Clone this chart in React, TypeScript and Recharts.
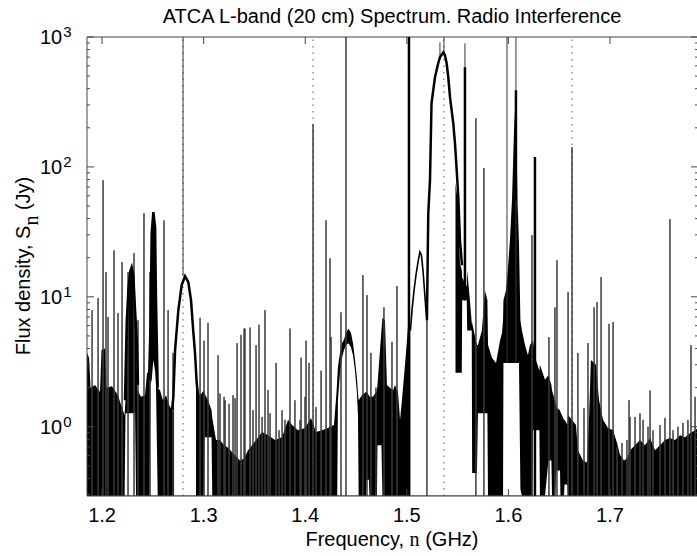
import { Area, ComposedChart, Line, ReferenceLine, XAxis, YAxis } from "recharts";

const FLOOR = 0.293;
const TOP = 1000;
const PL = 87;
const PR = 698;
const PT = 37;
const PB = 496;
const AXIS = "#444";
const SANS = "'Liberation Sans', Arial, Helvetica, sans-serif";
const SERIF = "'Liberation Serif', 'Times New Roman', serif";

// receiver noise band (solid black), low / high edge in Jy, null = gap
const bandFreq = [
  1.1852, 1.1872, 1.1887, 1.1931, 1.198, 1.1995, 1.203, 1.2044, 1.2098, 1.2157, 1.2187, 1.2222,
  1.2231, 1.2243, 1.2259, 1.2276, 1.2292, 1.2308, 1.2325, 1.2335, 1.2349, 1.2384, 1.2423, 1.2443,
  1.2468, 1.2476, 1.2489, 1.2505, 1.2522, 1.2531, 1.2548, 1.2571, 1.26, 1.263, 1.2659, 1.2699,
  1.2709, 1.2815, 1.2925, 1.2945, 1.2965, 1.3002, 1.3009, 1.3043, 1.3078, 1.3085, 1.3122, 1.3161,
  1.3201, 1.324, 1.3279, 1.3319, 1.3358, 1.3398, 1.3437, 1.3476, 1.3516, 1.3575, 1.3634, 1.3703,
  1.3772, 1.3831, 1.387, 1.3929, 1.3998, 1.4057, 1.4106, 1.4165, 1.4224, 1.4283, 1.4308, 1.4315,
  1.4322, 1.4342, 1.4362, 1.4382, 1.4401, 1.4424, 1.445, 1.447, 1.449, 1.4509, 1.4519, 1.4526,
  1.4558, 1.4598, 1.4603, 1.4627, 1.4632, 1.4667, 1.4706, 1.4711, 1.475, 1.476, 1.4785, 1.4804,
  1.4834, 1.4864, 1.4883, 1.4913, 1.4933, 1.4952, 1.4982, 1.5001, 1.5021, 1.5034, 1.525, 1.5479,
  1.5504, 1.5523, 1.5541, 1.5545, 1.559, 1.5594, 1.5621, 1.5639, 1.5643, 1.569, 1.57, 1.5739,
  1.5769, 1.5793, 1.5799, 1.5838, 1.5878, 1.5917, 1.5937, 1.5947, 1.5951, 1.5976, 1.5996, 1.6015,
  1.6035, 1.6055, 1.6074, 1.6089, 1.6104, 1.6118, 1.6133, 1.6163, 1.6192, 1.6212, 1.6237, 1.6242,
  1.6271, 1.6305, 1.631, 1.636, 1.6394, 1.6423, 1.6429, 1.6458, 1.6473, 1.6508, 1.6512, 1.6547,
  1.6552, 1.6581, 1.6587, 1.6626, 1.6665, 1.6684, 1.6734, 1.6773, 1.6793, 1.6812, 1.6862, 1.6892,
  1.6931, 1.698, 1.703, 1.7069, 1.7098, 1.7138, 1.7167, 1.7197, 1.7246, 1.7295, 1.7344, 1.7394,
  1.7443, 1.7492, 1.7541, 1.759, 1.764, 1.7689, 1.7738, 1.7787, 1.7837, 1.7866,
];
const bandLow = [
  FLOOR, FLOOR, FLOOR, FLOOR, FLOOR, FLOOR, FLOOR, FLOOR, FLOOR, FLOOR, FLOOR, FLOOR,
  1.27, 1.27, 1.27, 1.27, 1.27, 1.27, 1.27, FLOOR, FLOOR, FLOOR, FLOOR, FLOOR,
  FLOOR, 2.1, 2.3, 3.26, 2.7, 2.1, FLOOR, FLOOR, FLOOR, FLOOR, FLOOR, FLOOR,
  FLOOR, null, FLOOR, FLOOR, FLOOR, FLOOR, 0.83, 0.83, 0.83, FLOOR, FLOOR, FLOOR,
  FLOOR, FLOOR, FLOOR, FLOOR, FLOOR, FLOOR, FLOOR, FLOOR, FLOOR, FLOOR, FLOOR, FLOOR,
  FLOOR, FLOOR, FLOOR, FLOOR, FLOOR, FLOOR, FLOOR, FLOOR, FLOOR, FLOOR, FLOOR, FLOOR,
  1.6, 2.6, 3.4, 3.9, 4.25, 4.4, 4.1, 3.55, 2.7, 1.8, 1.23, FLOOR,
  FLOOR, FLOOR, 0.39, 0.39, FLOOR, FLOOR, FLOOR, 0.72, 0.72, FLOOR, FLOOR, FLOOR,
  FLOOR, FLOOR, FLOOR, FLOOR, FLOOR, FLOOR, FLOOR, FLOOR, FLOOR, FLOOR, null, 2.6,
  2.6, 2.6, 2.6, 9.4, 9.4, 5.5, 5.5, 5.5, 0.44, 0.44, 1.27, 1.27,
  1.27, 1.27, FLOOR, FLOOR, FLOOR, FLOOR, FLOOR, FLOOR, 3.1, 3.1, 3.1, 3.1,
  3.1, 3.1, 3.1, 3.1, 3.1, 0.33, FLOOR, FLOOR, FLOOR, FLOOR, FLOOR, 0.94,
  0.94, 0.94, FLOOR, FLOOR, 0.55, 0.55, FLOOR, FLOOR, 0.46, 0.46, FLOOR, FLOOR,
  0.36, 0.36, FLOOR, FLOOR, FLOOR, FLOOR, FLOOR, FLOOR, FLOOR, FLOOR, FLOOR, FLOOR,
  FLOOR, FLOOR, FLOOR, FLOOR, FLOOR, FLOOR, FLOOR, FLOOR, FLOOR, FLOOR, FLOOR, FLOOR,
  FLOOR, FLOOR, FLOOR, FLOOR, FLOOR, FLOOR, FLOOR, FLOOR, FLOOR, FLOOR,
];
const bandHigh = [
  3.7, 3.4, 2.0, 2.1, 1.85, 3.9, 4.0, 2.0, 2.05, 1.75, 1.47, 1.23,
  1.6, 6.3, 11.2, 15.5, 16.9, 14.7, 7.9, 4.6, 1.9, 1.7, 1.75, 2.6,
  2.6, 5.5, 30.9, 44.8, 34.4, 9.4, 2.0, 1.9, 1.6, 1.75, 1.47, 1.3,
  1.6, null, 2.1, 1.85, 1.75, 1.9, 1.8, 1.6, 1.34, 1.17, 0.79, 0.79,
  0.72, 0.69, 0.64, 0.59, 0.55, 0.57, 0.66, 0.72, 0.79, 0.91, 0.86, 0.79,
  0.83, 1.13, 1.03, 0.94, 0.98, 1.17, 0.91, 0.94, 0.98, 1.03, 1.85, 2.3,
  2.9, 3.7, 4.4, 4.7, 5.3, 5.7, 5.3, 4.4, 3.26, 2.37, 1.8, 1.6,
  1.75, 1.85, 1.85, 1.75, 1.7, 1.7, 1.9, 2.1, 5.5, 6.9, 6.6, 2.1,
  2.0, 1.9, 2.1, 1.85, 1.13, 1.6, 3.0, 4.6, 7.5, 5.5, null, 75,
  52.6, 18.2, 16.0, 14.0, 12.0, 16.0, 9.4, 6.3, 6.3, 4.25, 4.25, 5.5,
  11.2, 9.4, 4.25, 3.4, 3.1, 4.6, 5.3, 6.6, 9.4, 11.2, 16.9, 27.2,
  55.3, 191, 389, 55.3, 25.9, 6.6, 5.5, 4.25, 3.55, 4.25, 4.6, 4.6,
  3.26, 2.7, 3.0, 2.3, 2.5, 2.1, 1.9, 1.6, 1.4, 1.34, 1.3, 1.13,
  1.13, 1.03, 1.23, 1.13, 1.03, 0.66, 0.55, 0.53, 1.13, 3.26, 3.0, 1.6,
  1.13, 0.98, 0.94, 0.75, 0.61, 0.55, 0.57, 0.66, 0.72, 0.79, 0.72, 0.82,
  0.66, 0.72, 0.79, 0.82, 0.79, 0.86, 0.83, 0.89, 0.94, 0.98,
];

// narrow interference spikes rising from the bottom of the plot
const spikeFreq = [
  1.1902, 1.1961, 1.201, 1.2039, 1.2059, 1.2118, 1.2157, 1.2197, 1.2256, 1.2315, 1.2354, 1.2413,
  1.2472, 1.261, 1.265, 1.2699, 1.2965, 1.3004, 1.3043, 1.3142, 1.3161, 1.3201, 1.3211, 1.325,
  1.3289, 1.3309, 1.3329, 1.3368, 1.3398, 1.3407, 1.3457, 1.3486, 1.3516, 1.3545, 1.3575, 1.3604,
  1.3634, 1.3654, 1.3713, 1.3742, 1.3772, 1.3801, 1.385, 1.3899, 1.3949, 1.3959, 1.3998, 1.4008,
  1.4037, 1.4077, 1.4106, 1.4156, 1.4205, 1.4244, 1.4254, 1.4352, 1.4401, 1.4568, 1.4608, 1.4647,
  1.4696, 1.4775, 1.4854, 1.4903, 1.5198, 1.568, 1.5759, 1.6232, 1.6399, 1.6458, 1.6478, 1.6587,
  1.6626, 1.6684, 1.6744, 1.6783, 1.6843, 1.6872, 1.6912, 1.699, 1.703, 1.7069, 1.7118, 1.7167,
  1.7187, 1.7197, 1.7246, 1.7295, 1.7325, 1.7374, 1.7394, 1.7423, 1.7492, 1.7541, 1.759, 1.7620,
  1.7669, 1.7718, 1.7767, 1.7797, 1.7837,
];
const spikeTop = [
  7.9, 9.8, 79, 15.5, 7.0, 22.8, 7.5, 18.5, 15.5, 21.7, 6.6, 44,
  15.5, 38.8, 7.9, 3.7, 6.9, 4.6, 6.3, 3.55, 1.8, 1.7, 1.6, 1.5,
  1.75, 1.66, 4.4, 5.1, 5.7, 5.7, 5.8, 1.34, 4.25, 6.1, 1.19, 7.9,
  1.92, 1.27, 3.1, 0.94, 1.34, 1.13, 5.7, 1.6, 1.13, 3.4, 1.7, 4.6,
  3.1, 213, 1.42, 2.7, 38.8, 19.8, 4.9, 7.6, TOP, 14.7, 10.3, 3.7,
  2.0, 8.3, 4.5, 12.1, 6.6, 237, 98, 29.8, 4.9, 8.3, 19.1, 10.9,
  142, 3.7, 1.39, 4.4, 8.3, 9.1, 14.2, 6.2, 6.4, 0.7, 0.75, 0.79,
  1.6, 1.19, 1.19, 1.27, 1.13, 1.0, 1.9, 0.94, 1.03, 1.17, 39.6, 0.94,
  1.0, 1.07, 1.13, 4.25, 1.7,
];

// spikes that start on top of a broad feature: base and top in Jy
const raisedFreq = [1.2797, 1.5326, 1.5365, 1.5572, 1.5986, 1.6074];
const raisedBase = [14.4, 698, 750, 9.4, 3.1, 3.1];
const raisedTop = [TOP, 910, TOP, 895, TOP, TOP];

// heavy (saturated) interference lines
const heavyFreq = [1.5021, 1.5572, 1.6074, 1.6261];
const heavyBase = [FLOOR, 9.4, 55, FLOOR];
const heavyTop = [TOP, 585, 389, 119];

// broad interference profiles, [GHz, Jy]
const peak1228 = [[1.2226, 1.6], [1.2243, 6.3], [1.2259, 11.2], [1.2276, 15.5], [1.2292, 16.9], [1.2308, 14.7], [1.2325, 7.9], [1.2342, 4.6], [1.2354, 2.1]];
const peak1255 = [[1.2463, 2.3], [1.2476, 5.5], [1.2489, 30.9], [1.2505, 44.8], [1.2522, 34.4], [1.2531, 9.4], [1.2548, 2.0]];
const peak1283 = [[1.2689, 1.34], [1.2702, 1.7], [1.2719, 3.9], [1.2751, 7.9], [1.2784, 12.3], [1.2817, 14.4], [1.2849, 13.0], [1.2876, 9.4], [1.2899, 5.3], [1.2915, 3.7], [1.2932, 2.17], [1.2945, 1.75]];
const peak1515 = [[1.5036, 5.5], [1.5051, 7.9], [1.5071, 11.2], [1.509, 14.7], [1.511, 18.5], [1.5129, 22.1], [1.5144, 20.9], [1.5159, 16.0], [1.5174, 11.2], [1.5188, 7.9], [1.5198, 6.6]];
const peak1540 = [[1.5198, 6.6], [1.5211, 44], [1.5228, 79], [1.5243, 309], [1.5277, 490], [1.5309, 628], [1.5326, 698], [1.5359, 762], [1.5375, 723], [1.5392, 628], [1.5408, 490], [1.5425, 344], [1.5457, 217], [1.5474, 152], [1.5491, 94], [1.5507, 58], [1.5523, 27.2], [1.5543, 17.5]];

// protected radio-astronomy bands, dotted markers
const dottedFreq = [1.2797, 1.4077, 1.5365, 1.6626];

const xTicks = [1.2, 1.3, 1.4, 1.5, 1.6, 1.7];
const yTicks = [0.3, 0.4, 0.5, 0.6, 0.7, 0.8, 0.9, 1, 2, 3, 4, 5, 6, 7, 8, 9, 10, 20, 30, 40, 50, 60, 70, 80, 90, 100, 200, 300, 400, 500, 600, 700, 800, 900, 1000];

const bandRows = bandFreq.map((f, i) => ({
  f,
  band: bandLow[i] == null ? null : [bandLow[i], bandHigh[i]],
}));

function verticals(freq: number[], base: (number | null)[], top: number[]) {
  const rows: { f: number; s: number | null }[] = [];
  freq.forEach((f, i) => {
    rows.push({ f, s: base[i] }, { f, s: top[i] }, { f, s: null });
  });
  return rows;
}

const spikeRows = spikeFreq.flatMap((f, i) => [
  { f, s: FLOOR },
  { f, s: spikeTop[i] },
  { f, s: FLOOR },
]);
const raisedRows = verticals(raisedFreq, raisedBase, raisedTop);
const heavyRows = verticals(heavyFreq, heavyBase, heavyTop);
const peaks = [peak1228, peak1255, peak1283, peak1515, peak1540];

function LeftTick({ y, payload }: any) {
  const v = payload.value;
  const exp = Math.log10(v);
  const major = Math.abs(exp - Math.round(exp)) < 1e-6;
  const len = major ? 7 : 3;
  return (
    <g>
      <line x1={PL} x2={PL + len} y1={y} y2={y} stroke={AXIS} />
      <line x1={PR - len} x2={PR} y1={y} y2={y} stroke={AXIS} />
      {major && (
        <text x={PL - 47} y={y + 7} fontSize={20} fontFamily={SANS} fill="#000">
          10
          <tspan dx={1} dy={-7} fontSize={15}>
            {Math.round(exp)}
          </tspan>
        </text>
      )}
    </g>
  );
}

function BottomTick({ x, payload }: any) {
  return (
    <g>
      <line x1={x} x2={x} y1={PB} y2={PB - 7} stroke={AXIS} />
      <line x1={x} x2={x} y1={PT} y2={PT + 7} stroke={AXIS} />
      <text x={x} y={522} textAnchor="middle" fontSize={20} fontFamily={SANS} fill="#000">
        {payload.value.toFixed(1)}
      </text>
    </g>
  );
}

export default function App() {
  return (
    <div style={{ position: "absolute", left: 0, top: 0, width: 697, height: 556, overflow: "hidden", background: "#fff" }}>
      <ComposedChart width={700} height={556} margin={{ top: PT, right: 700 - PR, bottom: 556 - PB - 1, left: PL - 1 }}>
        <XAxis
          dataKey="f"
          type="number"
          domain={[1.1852, 1.7866]}
          allowDataOverflow
          ticks={xTicks}
          interval={0}
          tick={BottomTick}
          tickLine={false}
          axisLine={{ stroke: AXIS }}
          height={1}
        />
        <YAxis
          scale="log"
          domain={[FLOOR, TOP]}
          allowDataOverflow
          ticks={yTicks}
          interval={0}
          tick={LeftTick}
          tickLine={false}
          axisLine={{ stroke: AXIS }}
          width={1}
        />
        <ReferenceLine y={TOP} stroke={AXIS} ifOverflow="visible" />
        {dottedFreq.map((f) => (
          <ReferenceLine key={f} x={f} stroke="#555" strokeDasharray="1.5 5" ifOverflow="visible" />
        ))}
        <Area data={bandRows} dataKey="band" type="linear" stroke="none" fill="#000" fillOpacity={1} isAnimationActive={false} connectNulls={false} />
        <Line data={spikeRows} dataKey="s" type="linear" stroke="#3a3a3a" strokeWidth={1} dot={false} activeDot={false} isAnimationActive={false} />
        <Line data={raisedRows} dataKey="s" type="linear" stroke="#3a3a3a" strokeWidth={1} dot={false} activeDot={false} isAnimationActive={false} connectNulls={false} />
        <Line data={heavyRows} dataKey="s" type="linear" stroke="#000" strokeWidth={2.5} dot={false} activeDot={false} isAnimationActive={false} connectNulls={false} />
        {peaks.map((p, i) => (
          <Line
            key={i}
            data={p.map(([f, s]) => ({ f, s }))}
            dataKey="s"
            type="linear"
            stroke="#000"
            strokeWidth={i === 3 ? 1.6 : 2.5}
            dot={false}
            activeDot={false}
            isAnimationActive={false}
          />
        ))}
      </ComposedChart>
      <svg width={697} height={556} style={{ position: "absolute", left: 0, top: 0, pointerEvents: "none" }}>
        <text x={392} y={23} textAnchor="middle" fontSize={20} fontFamily={SANS} fill="#000">
          ATCA L-band (20 cm) Spectrum. Radio Interference
        </text>
        <text x={392} y={546} textAnchor="middle" fontSize={20} fontFamily={SANS} fill="#000">
          Frequency, <tspan fontFamily={SERIF}>n</tspan> (GHz)
        </text>
        <text transform="translate(29.5,266) rotate(-90)" textAnchor="middle" fontSize={20} fontFamily={SANS} fill="#000">
          Flux density, S
          <tspan fontFamily={SERIF} dy={8.5}>
            n
          </tspan>
          <tspan dy={-8.5}> (Jy)</tspan>
        </text>
      </svg>
    </div>
  );
}
